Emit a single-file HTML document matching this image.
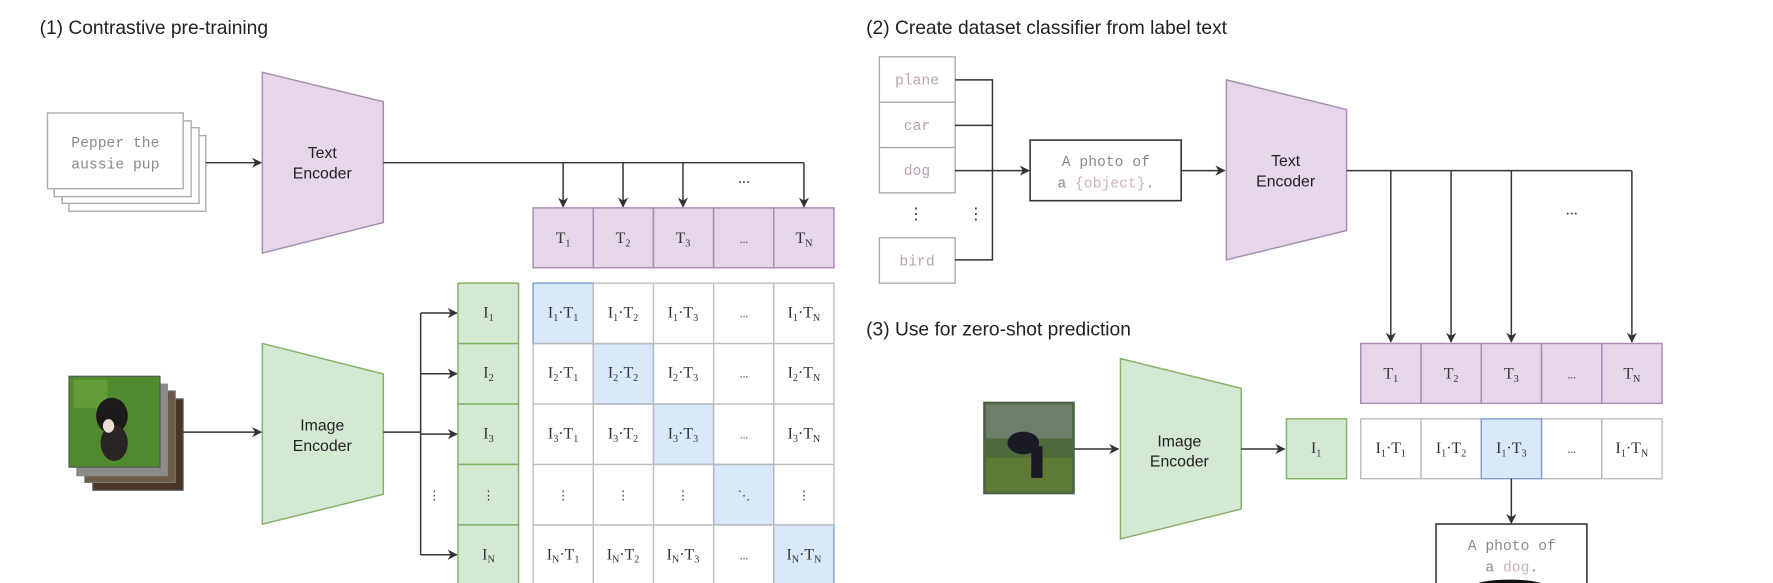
<!DOCTYPE html>
<html><head><meta charset="utf-8"><style>
html,body{margin:0;padding:0;background:#fff;overflow:hidden}
svg{display:block}
.t{font-family:"Liberation Sans",sans-serif;fill:#222}
.m{font-family:"Liberation Mono",monospace;fill:#8a8a8a}
.s{font-family:"Liberation Serif",serif;fill:#333;font-size:14px}
.ln{stroke:#333;stroke-width:1.3;fill:none}
</style></head><body>
<svg width="1773" height="583" viewBox="0 0 1568 516" preserveAspectRatio="none" xmlns="http://www.w3.org/2000/svg">
<defs>
<marker id="a" viewBox="0 0 10 10" refX="9" refY="5" markerWidth="9" markerHeight="9" markerUnits="userSpaceOnUse" orient="auto">
<path d="M0,0 L10,5 L0,10 L3,5 z" fill="#333"/></marker>
</defs>

<!-- Panel 1 -->
<text class="t" x="35" y="30" font-size="17">(1) Contrastive pre-training</text>
<g fill="#fff" stroke="#aaa" stroke-width="1.2">
<rect x="61" y="120" width="121" height="67"/>
<rect x="55" y="113" width="121" height="67"/>
<rect x="48" y="107" width="121" height="67"/>
<rect x="42" y="100" width="120" height="67"/>
</g>
<text class="m" x="102" y="130" font-size="13" text-anchor="middle">Pepper the</text>
<text class="m" x="102" y="149" font-size="13" text-anchor="middle">aussie pup</text>
<line class="ln" x1="182" y1="144" x2="231" y2="144" marker-end="url(#a)"/>
<polygon points="232,64 339,90 339,197 232,224" fill="#e6d6ea" stroke="#a98cb3" stroke-width="1.3"/>
<text class="t" x="285" y="140" font-size="14" text-anchor="middle">Text</text>
<text class="t" x="285" y="158" font-size="14" text-anchor="middle">Encoder</text>
<line class="ln" x1="339" y1="144" x2="711" y2="144"/>
<line class="ln" x1="498" y1="144" x2="498" y2="183" marker-end="url(#a)"/>
<line class="ln" x1="551" y1="144" x2="551" y2="183" marker-end="url(#a)"/>
<line class="ln" x1="604" y1="144" x2="604" y2="183" marker-end="url(#a)"/>
<line class="ln" x1="711" y1="144" x2="711" y2="183" marker-end="url(#a)"/>
<text class="s" x="658" y="162" font-size="10" text-anchor="middle">...</text>

<g fill="#e6d6ea" stroke="#a98cb3" stroke-width="1.3">
<rect x="471.5" y="184" width="53.2" height="53"/><rect x="524.7" y="184" width="53.2" height="53"/><rect x="577.9" y="184" width="53.2" height="53"/><rect x="631.1" y="184" width="53.2" height="53"/><rect x="684.3" y="184" width="53.2" height="53"/>
</g>
<g class="s" text-anchor="middle">
<text x="498" y="215">T<tspan font-size="9" dy="3">1</tspan></text>
<text x="551" y="215">T<tspan font-size="9" dy="3">2</tspan></text>
<text x="604" y="215">T<tspan font-size="9" dy="3">3</tspan></text>
<text x="658" y="215" font-size="10">...</text>
<text x="711" y="215">T<tspan font-size="9" dy="3">N</tspan></text>
</g>

<!-- Matrix -->
<g stroke="#bbb" stroke-width="1.2" fill="#fff">
<rect x="471.5" y="250.6" width="266" height="280"/>
</g>
<g fill="#dae8fc" stroke="#7e9ccc" stroke-width="1.2">
<rect x="471.5" y="250.6" width="53.2" height="53.5"/>
<rect x="524.7" y="304.1" width="53.2" height="53.5"/>
<rect x="577.9" y="357.6" width="53.2" height="53.5"/>
<rect x="631.1" y="411.1" width="53.2" height="53.5"/>
<rect x="684.3" y="464.6" width="53.2" height="53.5"/>
</g>
<g stroke="#bbb" stroke-width="1.2">
<line x1="524.7" y1="250.6" x2="524.7" y2="516"/><line x1="577.9" y1="250.6" x2="577.9" y2="516"/><line x1="631.1" y1="250.6" x2="631.1" y2="516"/><line x1="684.3" y1="250.6" x2="684.3" y2="516"/>
<line x1="471.5" y1="304.1" x2="737.5" y2="304.1"/><line x1="471.5" y1="357.6" x2="737.5" y2="357.6"/><line x1="471.5" y1="411.1" x2="737.5" y2="411.1"/><line x1="471.5" y1="464.6" x2="737.5" y2="464.6"/>
</g>
<g class="s" text-anchor="middle">
<text x="498" y="281">I<tspan font-size="9" dy="3">1</tspan><tspan dy="-3">·T</tspan><tspan font-size="9" dy="3">1</tspan></text>
<text x="551" y="281">I<tspan font-size="9" dy="3">1</tspan><tspan dy="-3">·T</tspan><tspan font-size="9" dy="3">2</tspan></text>
<text x="604" y="281">I<tspan font-size="9" dy="3">1</tspan><tspan dy="-3">·T</tspan><tspan font-size="9" dy="3">3</tspan></text>
<text x="658" y="281" font-size="10">...</text>
<text x="711" y="281">I<tspan font-size="9" dy="3">1</tspan><tspan dy="-3">·T</tspan><tspan font-size="9" dy="3">N</tspan></text>

<text x="498" y="334">I<tspan font-size="9" dy="3">2</tspan><tspan dy="-3">·T</tspan><tspan font-size="9" dy="3">1</tspan></text>
<text x="551" y="334">I<tspan font-size="9" dy="3">2</tspan><tspan dy="-3">·T</tspan><tspan font-size="9" dy="3">2</tspan></text>
<text x="604" y="334">I<tspan font-size="9" dy="3">2</tspan><tspan dy="-3">·T</tspan><tspan font-size="9" dy="3">3</tspan></text>
<text x="658" y="334" font-size="10">...</text>
<text x="711" y="334">I<tspan font-size="9" dy="3">2</tspan><tspan dy="-3">·T</tspan><tspan font-size="9" dy="3">N</tspan></text>

<text x="498" y="388">I<tspan font-size="9" dy="3">3</tspan><tspan dy="-3">·T</tspan><tspan font-size="9" dy="3">1</tspan></text>
<text x="551" y="388">I<tspan font-size="9" dy="3">3</tspan><tspan dy="-3">·T</tspan><tspan font-size="9" dy="3">2</tspan></text>
<text x="604" y="388">I<tspan font-size="9" dy="3">3</tspan><tspan dy="-3">·T</tspan><tspan font-size="9" dy="3">3</tspan></text>
<text x="658" y="388" font-size="10">...</text>
<text x="711" y="388">I<tspan font-size="9" dy="3">3</tspan><tspan dy="-3">·T</tspan><tspan font-size="9" dy="3">N</tspan></text>

<text x="498" y="442" font-size="11">⋮</text>
<text x="551" y="442" font-size="11">⋮</text>
<text x="604" y="442" font-size="11">⋮</text>
<text x="658" y="442" font-size="11">⋱</text>
<text x="711" y="442" font-size="11">⋮</text>

<text x="498" y="495">I<tspan font-size="9" dy="3">N</tspan><tspan dy="-3">·T</tspan><tspan font-size="9" dy="3">1</tspan></text>
<text x="551" y="495">I<tspan font-size="9" dy="3">N</tspan><tspan dy="-3">·T</tspan><tspan font-size="9" dy="3">2</tspan></text>
<text x="604" y="495">I<tspan font-size="9" dy="3">N</tspan><tspan dy="-3">·T</tspan><tspan font-size="9" dy="3">3</tspan></text>
<text x="658" y="495" font-size="10">...</text>
<text x="711" y="495">I<tspan font-size="9" dy="3">N</tspan><tspan dy="-3">·T</tspan><tspan font-size="9" dy="3">N</tspan></text>
</g>

<!-- I column -->
<g fill="#d5e8d4" stroke="#82b366" stroke-width="1.3">
<rect x="405" y="250.6" width="53.6" height="53.5"/><rect x="405" y="304.1" width="53.6" height="53.5"/><rect x="405" y="357.6" width="53.6" height="53.5"/><rect x="405" y="411.1" width="53.6" height="53.5"/><rect x="405" y="464.6" width="53.6" height="60"/>
</g>
<g class="s" text-anchor="middle">
<text x="432" y="281">I<tspan font-size="9" dy="3">1</tspan></text>
<text x="432" y="334">I<tspan font-size="9" dy="3">2</tspan></text>
<text x="432" y="388">I<tspan font-size="9" dy="3">3</tspan></text>
<text x="432" y="442" font-size="11">⋮</text>
<text x="432" y="495">I<tspan font-size="9" dy="3">N</tspan></text>
<text x="384" y="442" font-size="11">⋮</text>
</g>

<!-- Image stack -->
<rect x="82" y="353" width="80" height="81" fill="#4a3426" stroke="#666"/>
<rect x="75" y="346" width="80" height="81" fill="#6b5a48" stroke="#777"/>
<rect x="68" y="340" width="80" height="81" fill="#8a8c88" stroke="#888"/>
<rect x="61" y="333" width="80.5" height="80.5" fill="#4f8a2c" stroke="#555"/>
<rect x="65" y="336" width="30" height="25" fill="#6fa83f" opacity=".6"/>
<ellipse cx="99" cy="368" rx="14" ry="16" fill="#1e1a1a"/>
<ellipse cx="101" cy="392" rx="12" ry="16" fill="#2a2424"/>
<ellipse cx="96" cy="377" rx="5" ry="6" fill="#e8dcd0"/>
<line class="ln" x1="162" y1="382.5" x2="231" y2="382.5" marker-end="url(#a)"/>
<polygon points="232,304 339,331 339,437.5 232,464" fill="#d5e8d4" stroke="#82b366" stroke-width="1.3"/>
<text class="t" x="285" y="381" font-size="14" text-anchor="middle">Image</text>
<text class="t" x="285" y="399" font-size="14" text-anchor="middle">Encoder</text>
<line class="ln" x1="339" y1="382.5" x2="372" y2="382.5"/>
<line class="ln" x1="372" y1="277" x2="372" y2="491"/>
<line class="ln" x1="372" y1="277" x2="404" y2="277" marker-end="url(#a)"/>
<line class="ln" x1="372" y1="330.8" x2="404" y2="330.8" marker-end="url(#a)"/>
<line class="ln" x1="372" y1="384.2" x2="404" y2="384.2" marker-end="url(#a)"/>
<line class="ln" x1="372" y1="491" x2="404" y2="491" marker-end="url(#a)"/>

<!-- Panel 2 -->
<text class="t" x="766" y="30" font-size="17">(2) Create dataset classifier from label text</text>
<g fill="#fff" stroke="#aaa" stroke-width="1.2">
<rect x="777.7" y="50.3" width="67" height="40.2"/>
<rect x="777.7" y="90.5" width="67" height="40.1"/>
<rect x="777.7" y="130.6" width="67" height="40.1"/>
<rect x="777.7" y="210.5" width="67" height="40.1"/>
</g>
<g class="m" font-size="13" text-anchor="middle" fill="#c0a8b8">
<text x="811" y="75" fill="#b9a2b4">plane</text>
<text x="811" y="115" fill="#b9a2b4">car</text>
<text x="811" y="155" fill="#b9a2b4">dog</text>
<text x="811" y="235" fill="#b9a2b4">bird</text>
</g>
<text class="s" x="810" y="194" font-size="11" text-anchor="middle">⋮</text>
<text class="s" x="863" y="194" font-size="11" text-anchor="middle">⋮</text>
<g class="ln">
<polyline points="844.6,70.7 877.7,70.7 877.7,230 844.6,230"/>
<line x1="844.6" y1="111" x2="877.7" y2="111"/>
<line x1="844.6" y1="151" x2="877.7" y2="151"/>
</g>
<line class="ln" x1="877.7" y1="151" x2="910" y2="151" marker-end="url(#a)"/>
<rect x="911" y="124" width="133.6" height="53.6" fill="#fff" stroke="#333" stroke-width="1.4"/>
<text class="m" x="978" y="147" font-size="13" text-anchor="middle" fill="#777">A photo of</text>
<text class="m" x="978" y="166" font-size="13" text-anchor="middle" fill="#777">a <tspan fill="#c9b3c3">{object}</tspan>.</text>
<line class="ln" x1="1044.6" y1="151" x2="1083" y2="151" marker-end="url(#a)"/>
<polygon points="1084.6,70.7 1190.9,97 1190.9,204 1084.6,230" fill="#e6d6ea" stroke="#a98cb3" stroke-width="1.3"/>
<text class="t" x="1137" y="147" font-size="14" text-anchor="middle">Text</text>
<text class="t" x="1137" y="165" font-size="14" text-anchor="middle">Encoder</text>
<line class="ln" x1="1190.9" y1="151" x2="1443.2" y2="151"/>
<line class="ln" x1="1230" y1="151" x2="1230" y2="302.6" marker-end="url(#a)"/>
<line class="ln" x1="1283.3" y1="151" x2="1283.3" y2="302.6" marker-end="url(#a)"/>
<line class="ln" x1="1336.6" y1="151" x2="1336.6" y2="302.6" marker-end="url(#a)"/>
<line class="ln" x1="1443.2" y1="151" x2="1443.2" y2="302.6" marker-end="url(#a)"/>
<text class="s" x="1390" y="190" font-size="10" text-anchor="middle">...</text>

<g fill="#e6d6ea" stroke="#a98cb3" stroke-width="1.3">
<rect x="1203.4" y="304" width="53.3" height="53"/><rect x="1256.7" y="304" width="53.3" height="53"/><rect x="1310" y="304" width="53.3" height="53"/><rect x="1363.3" y="304" width="53.3" height="53"/><rect x="1416.6" y="304" width="53.3" height="53"/>
</g>
<g class="s" text-anchor="middle">
<text x="1230" y="335">T<tspan font-size="9" dy="3">1</tspan></text>
<text x="1283.3" y="335">T<tspan font-size="9" dy="3">2</tspan></text>
<text x="1336.6" y="335">T<tspan font-size="9" dy="3">3</tspan></text>
<text x="1390" y="335" font-size="10">...</text>
<text x="1443.2" y="335">T<tspan font-size="9" dy="3">N</tspan></text>
</g>
<g fill="#fff" stroke="#bbb" stroke-width="1.2">
<rect x="1203.4" y="370.7" width="53.3" height="53"/><rect x="1256.7" y="370.7" width="53.3" height="53"/><rect x="1363.3" y="370.7" width="53.3" height="53"/><rect x="1416.6" y="370.7" width="53.3" height="53"/>
</g>
<rect x="1310" y="370.7" width="53.3" height="53" fill="#dae8fc" stroke="#7e9ccc" stroke-width="1.2"/>
<g class="s" text-anchor="middle">
<text x="1230" y="401">I<tspan font-size="9" dy="3">1</tspan><tspan dy="-3">·T</tspan><tspan font-size="9" dy="3">1</tspan></text>
<text x="1283.3" y="401">I<tspan font-size="9" dy="3">1</tspan><tspan dy="-3">·T</tspan><tspan font-size="9" dy="3">2</tspan></text>
<text x="1336.6" y="401">I<tspan font-size="9" dy="3">1</tspan><tspan dy="-3">·T</tspan><tspan font-size="9" dy="3">3</tspan></text>
<text x="1390" y="401" font-size="10">...</text>
<text x="1443.2" y="401">I<tspan font-size="9" dy="3">1</tspan><tspan dy="-3">·T</tspan><tspan font-size="9" dy="3">N</tspan></text>
</g>
<line class="ln" x1="1336.6" y1="423.7" x2="1336.6" y2="463" marker-end="url(#a)"/>
<rect x="1270" y="463.8" width="133.4" height="60" fill="#fff" stroke="#333" stroke-width="1.4"/>
<text class="m" x="1337" y="487" font-size="13" text-anchor="middle" fill="#777">A photo of</text>
<text class="m" x="1337" y="506" font-size="13" text-anchor="middle" fill="#777">a <tspan fill="#c9b3c3">dog</tspan>.</text>
<ellipse cx="1335" cy="519" rx="32" ry="6" fill="#111"/>

<!-- Panel 3 -->
<text class="t" x="766" y="297" font-size="17">(3) Use for zero-shot prediction</text>
<rect x="870" y="356" width="80" height="81" fill="#4d6a3a" stroke="#555"/>
<rect x="872" y="358" width="76" height="30" fill="#6d7f6a"/>
<rect x="872" y="405" width="76" height="30" fill="#5f7a35"/>
<ellipse cx="905" cy="392" rx="14" ry="10" fill="#1a1a22"/>
<rect x="912" y="395" width="10" height="28" fill="#1a1a22"/>
<line class="ln" x1="950" y1="397.4" x2="989" y2="397.4" marker-end="url(#a)"/>
<polygon points="990.9,317.4 1097.7,343.7 1097.7,450.6 990.9,477" fill="#d5e8d4" stroke="#82b366" stroke-width="1.3"/>
<text class="t" x="1043" y="395" font-size="14" text-anchor="middle">Image</text>
<text class="t" x="1043" y="413" font-size="14" text-anchor="middle">Encoder</text>
<line class="ln" x1="1097.7" y1="397.4" x2="1136" y2="397.4" marker-end="url(#a)"/>
<rect x="1137.7" y="370.7" width="53.2" height="53" fill="#d5e8d4" stroke="#82b366" stroke-width="1.3"/>
<text class="s" x="1164" y="401" text-anchor="middle">I<tspan font-size="9" dy="3">1</tspan></text>
</svg>
</body></html>
